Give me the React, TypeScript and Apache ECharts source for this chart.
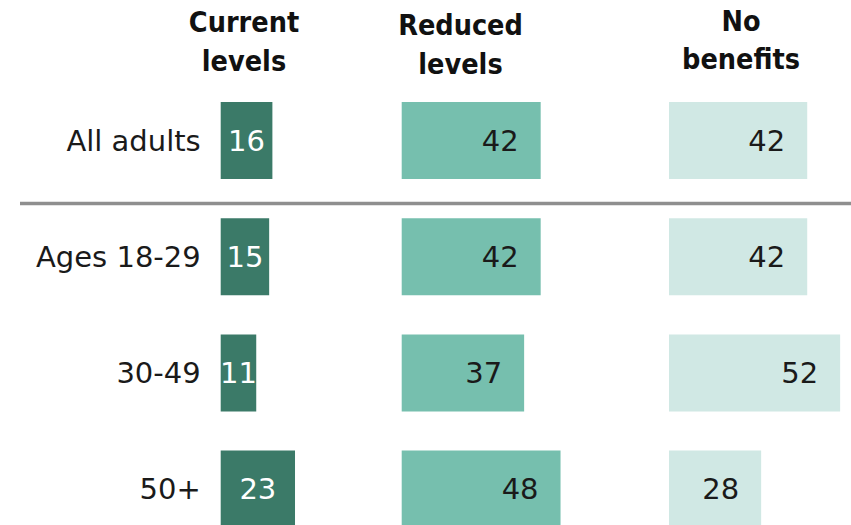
import React, { useEffect, useRef } from "react";
import * as echarts from "echarts";

const categories = ["All adults", "Ages 18-29", "30-49", "50+"];
const currentLevels = [16, 15, 11, 23];
const reducedLevels = [42, 42, 37, 48];
const noBenefits = [42, 42, 52, 28];
const headers = [
  ["Current", "levels"],
  ["Reduced", "levels"],
  ["No", "benefits"],
];

const NUM_FONT = "'DejaVu Sans', sans-serif";
const HEAD_FONT = "'DejaVu Sans Condensed', 'DejaVu Sans', sans-serif";

export default function App() {
  const ref = useRef<HTMLDivElement>(null);
  useEffect(() => {
    document.body.style.margin = "0";
    const chart = echarts.init(ref.current!, null, { renderer: "svg" });
    const top = 82.4;
    const height = 464.8;
    const grids = [
      { left: 220.7, top, width: 177.7, height },
      { left: 401.7, top, width: 182, height },
      { left: 669, top, width: 181, height },
    ];
    const colors = ["#3b7a68", "#76bfae", "#d0e8e4"];
    const datas = [currentLevels, reducedLevels, noBenefits];
    const headerPos = [
      { x: 244, y1: 22, y2: 61 },
      { x: 460.5, y1: 25.5, y2: 64 },
      { x: 741, y1: 21.5, y2: 59 },
    ];
    const graphic: any[] = [
      {
        type: "line",
        shape: { x1: 20, y1: 203.5, x2: 851, y2: 203.5 },
        style: { stroke: "#8f8f8f", lineWidth: 3.5 },
      },
    ];
    headers.forEach((h, i) => {
      h.forEach((t, j) => {
        graphic.push({
          type: "text",
          x: headerPos[i].x,
          y: j === 0 ? headerPos[i].y1 : headerPos[i].y2,
          style: {
            text: t,
            fontFamily: HEAD_FONT,
            fontWeight: "bold",
            fontSize: 28.5,
            fill: "#111",
            textAlign: "center",
            textVerticalAlign: "middle",
          },
        });
      });
    });
    chart.setOption({
      animation: false,
      grid: grids,
      xAxis: grids.map((_, i) => ({
        type: "value",
        gridIndex: i,
        min: 0,
        max: 55,
        show: false,
      })),
      yAxis: grids.map((_, i) => ({
        type: "category",
        gridIndex: i,
        data: categories,
        inverse: true,
        axisLine: { show: false },
        axisTick: { show: false },
        splitLine: { show: false },
        axisLabel: {
          show: i === 0,
          margin: 20,
          color: "#1a1a1a",
          fontSize: 29,
          fontFamily: NUM_FONT,
        },
      })),
      series: datas.map((d, i) => ({
        type: "bar",
        xAxisIndex: i,
        yAxisIndex: i,
        data: d,
        barWidth: 77,
        itemStyle: { color: colors[i] },
        label: {
          show: true,
          position: i === 0 ? "inside" : "insideRight",
          distance: i === 0 ? 5 : 22,
          color: i === 0 ? "#ffffff" : "#1a1a1a",
          fontSize: 29,
          fontFamily: NUM_FONT,
        },
      })),
      graphic,
    });
    return () => chart.dispose();
  }, []);
  return (
    <div style={{ width: 851, height: 525, overflow: "hidden" }}>
      <div ref={ref} style={{ width: 851, height: 560 }} />
    </div>
  );
}
